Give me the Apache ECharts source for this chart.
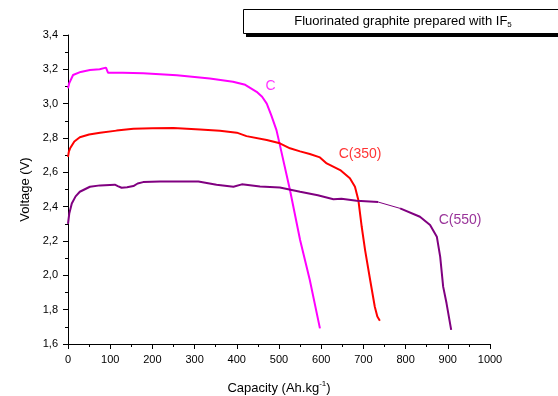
<!DOCTYPE html>
<html>
<head>
<meta charset="utf-8">
<script src="https://cdn.jsdelivr.net/npm/echarts@6/dist/echarts.min.js"></script>
<style>html,body{margin:0;padding:0;background:#fff}#c{width:558px;height:396px}</style>
</head>
<body>
<div id="c"></div>
<script>
var xTicks = [0,100,200,300,400,500,600,700,800,900,1000];
var yTicks = ['1,6','1,8','2,0','2,2','2,4','2,6','2,8','3,0','3,2','3,4'];

var seriesC = [[0,3.09],[3,3.12],[12,3.167],[30,3.185],[52,3.196],[75,3.2],[90,3.21],[92,3.212],[95,3.18],[130,3.18],[178,3.177],[258,3.165],[336,3.147],[391,3.128],[420,3.11],[447,3.069],[460,3.04],[471,3.0],[482,2.93],[494,2.846],[502,2.76],[526,2.497],[550,2.206],[573,1.973],[597,1.691]];
var seriesC350 = [[0,2.69],[2,2.72],[5,2.74],[15,2.78],[28,2.804],[50,2.82],[76,2.831],[115,2.843],[155,2.854],[200,2.857],[250,2.858],[313,2.85],[360,2.842],[400,2.831],[423,2.811],[471,2.788],[502,2.769],[526,2.74],[550,2.722],[573,2.707],[597,2.687],[613,2.652],[645,2.613],[668,2.565],[680,2.516],[688,2.439],[696,2.283],[704,2.147],[716,1.973],[727,1.817],[733,1.76],[739,1.736]];
var seriesC550a = [[0,2.3],[3,2.36],[9,2.419],[18,2.46],[28,2.487],[52,2.516],[76,2.524],[111,2.528],[118,2.52],[127,2.51],[140,2.513],[155,2.52],[165,2.535],[178,2.543],[218,2.547],[309,2.547],[313,2.54],[352,2.528],[392,2.516],[412,2.53],[455,2.518],[502,2.512],[550,2.487],[592,2.466],[629,2.443],[648,2.446],[684,2.435],[735,2.427]];
var seriesC550b = [[735,2.427],[787,2.39]];
var seriesC550c = [[787,2.39],[834,2.341],[858,2.293],[874,2.225],[882,2.108],[889,1.934],[897,1.837],[908,1.682]];

var labelC = [480, 3.10];
var labelC350 = [692, 2.707];
var labelC550 = [929, 2.322];

var ff = 'Liberation Sans';
function mk(txt, coord, color) {
  return {
    type: 'scatter', data: [coord], symbol: 'circle', symbolSize: 1, silent: true,
    itemStyle: { color: 'rgba(0,0,0,0)' },
    label: { show: true, position: 'inside', formatter: txt, color: color, fontSize: 14, fontFamily: ff }
  };
}

var chart = echarts.init(document.getElementById('c'));
chart.setOption({
  animation: false,
  backgroundColor: '#fff',
  grid: { left: 68, right: 68, top: 35, bottom: 52, containLabel: false, outerBoundsMode: 'none' },
  xAxis: {
    type: 'value', min: 0, max: 1000, interval: 100,
    name: '{a|Capacity (Ah.kg}{s|-1}{a|)}',
    nameLocation: 'middle', nameGap: 36,
    nameTextStyle: { rich: { a: { fontSize: 13, fontFamily: ff, color: '#000' }, s: { fontSize: 8, fontFamily: ff, color: '#000', verticalAlign: 'top', padding: [0,0,8,0] } } },
    axisLine: { lineStyle: { color: '#000', width: 1 } },
    axisTick: { show: true, length: 5, lineStyle: { color: '#000' } },
    minorTick: { show: true, splitNumber: 2, length: 3, lineStyle: { color: '#000' } },
    splitLine: { show: false },
    axisLabel: { color: '#000', fontSize: 11, fontFamily: ff, margin: 10, formatter: function (v) { return xTicks.indexOf(v) >= 0 ? String(v) : ''; } }
  },
  yAxis: {
    type: 'value', min: 1.6, max: 3.4, interval: 0.2,
    name: 'Voltage (V)', nameLocation: 'middle', nameGap: 34, nameRotate: 90,
    nameTextStyle: { fontSize: 13, fontFamily: ff, color: '#000' },
    axisLine: { show: true, lineStyle: { color: '#000', width: 1 } },
    axisTick: { show: true, length: 5, lineStyle: { color: '#000' } },
    minorTick: { show: true, splitNumber: 2, length: 3, lineStyle: { color: '#000' } },
    splitLine: { show: false },
    axisLabel: { color: '#000', fontSize: 11, fontFamily: ff, margin: 10, formatter: function (v) { var i = Math.round((v - 1.6) / 0.2); return yTicks[i] || ''; } }
  },
  series: [
    { type: 'line', data: seriesC, showSymbol: false, lineStyle: { color: '#ff00ff', width: 2 } },
    { type: 'line', data: seriesC350, showSymbol: false, lineStyle: { color: '#ff0000', width: 2 } },
    { type: 'line', data: seriesC550a, showSymbol: false, lineStyle: { color: '#800080', width: 2 } },
    { type: 'line', data: seriesC550b, showSymbol: false, lineStyle: { color: '#800080', width: 1 } },
    { type: 'line', data: seriesC550c, showSymbol: false, lineStyle: { color: '#800080', width: 2 } },
    mk('C', labelC, '#ff00ff'),
    mk('C(350)', labelC350, '#ff0000'),
    mk('C(550)', labelC550, '#800080')
  ],
  graphic: [
    { type: 'rect', shape: { x: 246, y: 33, width: 320, height: 4 }, style: { fill: '#000' }, z: 10 },
    { type: 'rect', shape: { x: 243.5, y: 9.5, width: 330, height: 24 }, style: { fill: '#fff', stroke: '#000', lineWidth: 1 }, z: 11 },
    { type: 'text', x: 403, y: 21, z: 12, style: { text: '{a|Fluorinated graphite prepared with IF}{s|5}', align: 'center', verticalAlign: 'middle',
      rich: { a: { fontSize: 13, fontFamily: ff, fill: '#000' }, s: { fontSize: 8, fontFamily: ff, fill: '#000', padding: [8,0,0,0] } } } }
  ]
});
</script>
</body>
</html>
